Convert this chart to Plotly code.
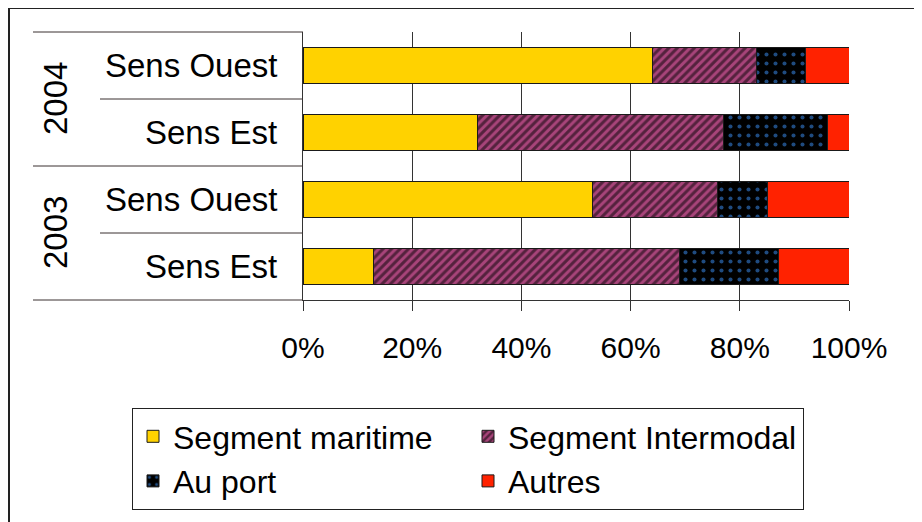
import plotly.graph_objects as go

# Categories (bottom to top)
cat_ids = ["2003|Sens Est", "2003|Sens Ouest", "2004|Sens Est", "2004|Sens Ouest"]
cat_labels = ["Sens Est", "Sens Ouest", "Sens Est", "Sens Ouest"]
years = ["2003", "2004"]

# Series values (%), same order as categories
maritime = [13, 53, 32, 64]
intermodal = [56, 23, 45, 19]
au_port = [18, 9, 19, 9]
autres = [13, 15, 4, 8]

series_names = ["Segment maritime", "Segment Intermodal", "Au port", "Autres"]
tick_vals = [0, 20, 40, 60, 80, 100]
tick_text = ["0%", "20%", "40%", "60%", "80%", "100%"]

FONT = "Liberation Sans, Arial, sans-serif"
OFF = 8  # page body margin
W, H = 922 - OFF, 522 - OFF
# plot area in screen pixels: x 303..849, y 32..300
L, T = 303 - OFF, 32 - OFF
R = W - (849 - OFF)
B = H - (300 - OFF)
PW, PH = W - L - R, H - T - B


def px_x(p):
    return (p - OFF - L) / PW


def px_y(p):
    return (H - B - (p - OFF)) / PH


fig = go.Figure()
line = dict(color="#1a1a1a", width=1)
fig.add_trace(go.Bar(y=cat_ids, x=maritime, name=series_names[0], orientation="h",
                     marker=dict(color="#FFD200", line=line)))
fig.add_trace(go.Bar(y=cat_ids, x=intermodal, name=series_names[1], orientation="h",
                     marker=dict(color="#A8447A", line=line,
                                 pattern=dict(shape="/", bgcolor="#A8447A", fgcolor="black",
                                              size=6, solidity=0.5))))
fig.add_trace(go.Bar(y=cat_ids, x=au_port, name=series_names[2], orientation="h",
                     marker=dict(color="#3D95FF", line=line,
                                 pattern=dict(shape=".", bgcolor="black", fgcolor="#3D95FF",
                                              size=9, solidity=0.16))))
fig.add_trace(go.Bar(y=cat_ids, x=autres, name=series_names[3], orientation="h",
                     marker=dict(color="#FF2200", line=line)))

annotations = []
for cid, lab in zip(cat_ids, cat_labels):
    annotations.append(dict(x=px_x(279), xref="paper", y=cid, yref="y", text=lab,
                            showarrow=False, xanchor="right", yanchor="middle",
                            font=dict(family=FONT, size=33, color="black")))
for i, yr in enumerate(years):
    annotations.append(dict(x=px_x(55), xref="paper", y=0.25 + 0.5 * i, yref="paper",
                            text=yr, showarrow=False, textangle=-90,
                            xanchor="center", yanchor="middle",
                            font=dict(family=FONT, size=33, color="black")))

shapes = []
div_col = "#3a3030"
for k in range(5):
    x0 = px_x(33) if k % 2 == 0 else px_x(100)
    shapes.append(dict(type="line", xref="paper", yref="paper", x0=x0, x1=0,
                       y0=k * 0.25, y1=k * 0.25, line=dict(color=div_col, width=1)))
# outer chart frame
shapes.append(dict(type="rect", xref="paper", yref="paper",
                   x0=px_x(9), x1=px_x(935), y0=px_y(540), y1=px_y(8),
                   line=dict(color="#222222", width=2), layer="below"))

fig.update_layout(
    width=W, height=H,
    margin=dict(l=L, r=R, t=T, b=B, pad=0),
    barmode="stack", bargap=0.46,
    plot_bgcolor="white", paper_bgcolor="white",
    font=dict(family=FONT, size=30, color="black"),
    xaxis=dict(range=[0, 100], tickvals=tick_vals, ticktext=tick_text,
               showgrid=True, gridcolor="#333333", gridwidth=1,
               ticks="outside", ticklen=10, tickcolor="#333333",
               ticklabelstandoff=11,
               showline=True, linecolor="#333333", linewidth=1,
               tickfont=dict(family=FONT, size=30, color="black"),
               zeroline=False, fixedrange=True),
    yaxis=dict(categoryorder="array", categoryarray=cat_ids, showticklabels=False,
               showline=True, linecolor="#333333", linewidth=1, ticks="",
               showgrid=False, fixedrange=True),
    legend=dict(orientation="h", x=px_x(132), y=px_y(408), xanchor="left", yanchor="top",
                bordercolor="#222222", borderwidth=1, bgcolor="white",
                font=dict(family=FONT, size=32, color="black"),
                entrywidth=290, itemwidth=30, traceorder="normal"),
    annotations=annotations,
    shapes=shapes,
    showlegend=True,
)

fig.write_html("out.html")
